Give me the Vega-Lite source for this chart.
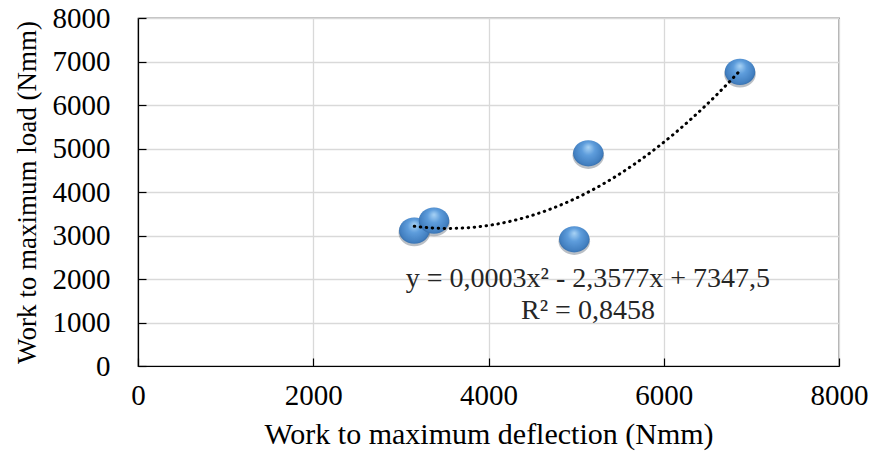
{
  "$schema": "https://vega.github.io/schema/vega-lite/v6.json",
  "width": 701,
  "height": 348,
  "autosize": {"type": "none"},
  "padding": {"left": 138, "top": 18, "right": 33, "bottom": 86},
  "background": "white",
  "config": {
    "font": "Liberation Serif, serif",
    "view": {"stroke": "#000000", "strokeWidth": 1.2},
    "axis": {
      "labelFont": "Liberation Serif, serif",
      "titleFont": "Liberation Serif, serif",
      "labelFontSize": 29,
      "titleFontSize": 30,
      "labelColor": "#000000",
      "titleColor": "#000000",
      "titleFontWeight": "normal",
      "gridColor": "#d9d9d9",
      "gridWidth": 1.3,
      "domainColor": "#000000",
      "domainWidth": 1.2,
      "tickColor": "#000000",
      "tickSize": -8,
      "tickWidth": 1.2,
      "labelFlush": false
    }
  },
  "datasets": {
    "tests": [
      {"deflection_work": 3153, "load_work": 3110},
      {"deflection_work": 3378, "load_work": 3340},
      {"deflection_work": 4979, "load_work": 2913},
      {"deflection_work": 5139, "load_work": 4890},
      {"deflection_work": 6870, "load_work": 6759}
    ],
    "fit_label": [
      {"deflection_work": 5135, "load_work": 2000, "text": "y = 0,0003x² - 2,3577x + 7347,5"},
      {"deflection_work": 5135, "load_work": 1265, "text": "R² = 0,8458"}
    ]
  },
  "encoding": {
    "x": {
      "field": "deflection_work",
      "type": "quantitative",
      "scale": {"domain": [0, 8000], "nice": false, "zero": true},
      "axis": {
        "title": "Work to maximum deflection (Nmm)",
        "values": [0, 2000, 4000, 6000, 8000],
        "format": "d",
        "labelPadding": 23,
        "titlePadding": 9
      }
    },
    "y": {
      "field": "load_work",
      "type": "quantitative",
      "scale": {"domain": [0, 8000], "nice": false},
      "axis": {
        "title": "Work to maximum load (Nmm)",
        "titleFontSize": 27,
        "values": [0, 1000, 2000, 3000, 4000, 5000, 6000, 7000, 8000],
        "format": "d",
        "labelPadding": 36,
        "titlePadding": 11
      }
    }
  },
  "layer": [
    {
      "data": {"name": "tests"},
      "mark": {
        "type": "point",
        "filled": true,
        "shape": "M-1,0A1,0.86,0,1,1,1,0A1,0.86,0,1,1,-1,0Z",
        "size": 1000,
        "yOffset": 2,
        "color": "#1a2a40",
        "opacity": 0.3
      }
    },
    {
      "data": {"name": "tests"},
      "mark": {
        "type": "point",
        "filled": true,
        "opacity": 1,
        "shape": "M-1,0A1,0.86,0,1,1,1,0A1,0.86,0,1,1,-1,0Z",
        "size": 930,
        "color": {
          "gradient": "radial",
          "x1": 0.5, "y1": 0.3, "r1": 0,
          "x2": 0.5, "y2": 0.45, "r2": 0.62,
          "stops": [
            {"offset": 0, "color": "#a9d3f5"},
            {"offset": 0.35, "color": "#5e9ddc"},
            {"offset": 0.75, "color": "#427fc0"},
            {"offset": 1, "color": "#214f82"}
          ]
        }
      }
    },
    {
      "data": {"name": "tests"},
      "transform": [
        {"regression": "load_work", "on": "deflection_work", "method": "poly", "order": 2}
      ],
      "mark": {
        "type": "line",
        "color": "#000000",
        "strokeWidth": 3,
        "strokeDash": [0.5, 5.5],
        "strokeCap": "round"
      }
    },
    {
      "data": {"name": "fit_label"},
      "mark": {
        "type": "text",
        "font": "Liberation Serif, serif",
        "fontSize": 28,
        "color": "#262626",
        "align": "center",
        "baseline": "middle"
      },
      "encoding": {"text": {"field": "text"}}
    }
  ]
}
